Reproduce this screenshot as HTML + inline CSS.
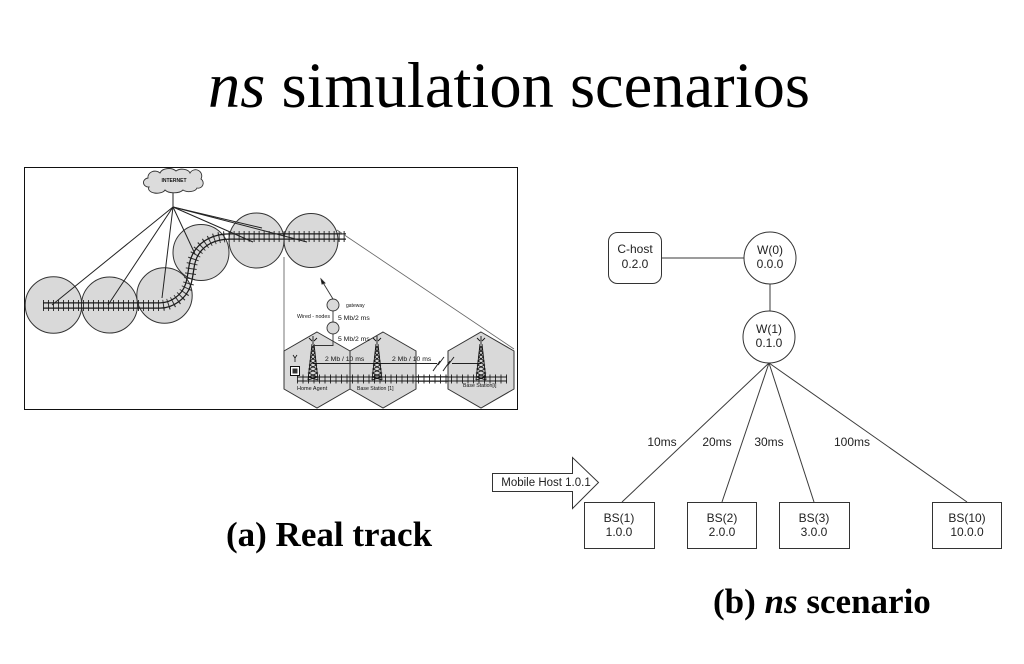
<!DOCTYPE html>
<html><head><meta charset="utf-8"><style>
html,body{margin:0;padding:0;background:#fff;}
svg{display:block;}
</style></head><body>
<svg width="1024" height="664" viewBox="0 0 1024 664" xmlns="http://www.w3.org/2000/svg">
<defs>
<mask id="rm" maskUnits="userSpaceOnUse" x="0" y="0" width="1024" height="664">
  <path d="M43,305.5 L160,305.5 C172,305.5 184,297 188,285 C192,273 190,262 197,252 C203,243 214,236.5 230,236.5 L346,236.5" stroke="#fff" stroke-width="6.5" fill="none"/>
  <path d="M43,305.5 L160,305.5 C172,305.5 184,297 188,285 C192,273 190,262 197,252 C203,243 214,236.5 230,236.5 L346,236.5" stroke="#000" stroke-width="4" fill="none"/>
  <line x1="297" y1="379" x2="507" y2="379" stroke="#fff" stroke-width="5.5"/>
  <line x1="297" y1="379" x2="507" y2="379" stroke="#000" stroke-width="3"/>
</mask>
</defs>

<!-- Title -->
<text x="208" y="107" font-family="Liberation Serif, serif" font-size="64.5" fill="#000"><tspan font-style="italic">ns</tspan> simulation scenarios</text>

<!-- Left panel -->
<rect x="24.5" y="167.5" width="493" height="242" fill="#fff" stroke="#111" stroke-width="1"/>

<!-- circles -->
<g fill="#d9d9d9" stroke="#333" stroke-width="1">
  <circle cx="53.5" cy="305" r="28.3"/>
  <circle cx="109.5" cy="305" r="28"/>
  <circle cx="164.5" cy="295.5" r="27.7"/>
  <circle cx="201" cy="252.5" r="28"/>
  <circle cx="256.5" cy="240.5" r="27.5"/>
  <circle cx="311" cy="240.5" r="27"/>
</g>

<!-- track ties -->
<path d="M43,305.5 L160,305.5 C172,305.5 184,297 188,285 C192,273 190,262 197,252 C203,243 214,236.5 230,236.5 L346,236.5" stroke="#333" stroke-width="11" stroke-dasharray="1 4" fill="none"/>
<line x1="297" y1="379" x2="507" y2="379" stroke="#333" stroke-width="9" stroke-dasharray="1 4.5"/>
<rect x="0" y="0" width="1024" height="664" fill="#1a1a1a" mask="url(#rm)"/>

<!-- lines from hub -->
<g stroke="#222" stroke-width="1" fill="none">
  <line x1="173" y1="188" x2="173" y2="207"/>
  <line x1="173" y1="207" x2="52" y2="305"/>
  <line x1="173" y1="207" x2="108" y2="305"/>
  <line x1="173" y1="207" x2="162" y2="298"/>
  <line x1="173" y1="207" x2="195" y2="254"/>
  <line x1="173" y1="207" x2="253" y2="242"/>
  <line x1="173" y1="207" x2="307" y2="242"/>
  <line x1="173" y1="207" x2="262" y2="228"/>
</g>

<!-- cloud -->
<path d="M149,187 a5,4.5 0 0 1 -1,-9 a7,6 0 0 1 12,-5 a9,6 0 0 1 16,-2 a8,5 0 0 1 14,2 a5,5 0 0 1 11,6 a5,5 0 0 1 -4,9 a8,4.5 0 0 1 -14,2 a10,5 0 0 1 -18,0 a8,4.5 0 0 1 -16,-3 z" fill="#dcdcdc" stroke="#333" stroke-width="0.9"/>
<text x="174" y="182" font-family="Liberation Sans, sans-serif" font-size="5" font-weight="bold" text-anchor="middle" fill="#111">INTERNET</text>

<!-- callout lines -->
<line x1="284" y1="257" x2="284" y2="351" stroke="#555" stroke-width="0.8"/>
<line x1="337" y1="230" x2="514" y2="349" stroke="#666" stroke-width="0.8"/>

<!-- hexagons -->
<g fill="#d9d9d9" stroke="#333" stroke-width="1">
  <polygon points="317,332 350,351 350,389 317,408 284,389 284,351"/>
  <polygon points="383,332 416,351 416,389 383,408 350,389 350,351"/>
  <polygon points="481,332 514,351 514,389 481,408 448,389 448,351"/>
</g>

<!-- redraw inset track over hexes -->
<line x1="297" y1="379" x2="507" y2="379" stroke="#333" stroke-width="9" stroke-dasharray="1 4.5"/>
<line x1="297" y1="377" x2="507" y2="377" stroke="#1a1a1a" stroke-width="1"/>
<line x1="297" y1="381" x2="507" y2="381" stroke="#1a1a1a" stroke-width="1"/>

<!-- link line -->
<g stroke="#222" stroke-width="1" fill="none">
  <line x1="313" y1="363.5" x2="437" y2="363.5"/>
  <polyline points="433,371 440,361 438,365 444,357"/>
  <polyline points="443,371 450,361 448,365 454,357"/>
  <line x1="452" y1="363.5" x2="481" y2="363.5"/>
</g>

<!-- towers -->
<g stroke="#111" stroke-width="0.9" fill="none">
  <g transform="translate(313,0)">
    <line x1="0" y1="336" x2="0" y2="344"/><line x1="-1" y1="344" x2="-5" y2="380"/><line x1="1" y1="344" x2="5" y2="380"/>
    <polyline points="-1,346 1.5,349 -2,353 2.5,357 -3,361 3.5,365 -4,369 4.5,373 -4.5,377 5,380"/>
    <polyline points="1,346 -1.5,349 2,353 -2.5,357 3,361 -3.5,365 4,369 -4.5,373 4.5,377 -5,380"/>
    <line x1="-4" y1="338" x2="-1" y2="341"/><line x1="4" y1="338" x2="1" y2="341"/>
  </g>
  <g transform="translate(377,0)">
    <line x1="0" y1="336" x2="0" y2="344"/><line x1="-1" y1="344" x2="-5" y2="380"/><line x1="1" y1="344" x2="5" y2="380"/>
    <polyline points="-1,346 1.5,349 -2,353 2.5,357 -3,361 3.5,365 -4,369 4.5,373 -4.5,377 5,380"/>
    <polyline points="1,346 -1.5,349 2,353 -2.5,357 3,361 -3.5,365 4,369 -4.5,373 4.5,377 -5,380"/>
    <line x1="-4" y1="338" x2="-1" y2="341"/><line x1="4" y1="338" x2="1" y2="341"/>
  </g>
  <g transform="translate(481,0)">
    <line x1="0" y1="336" x2="0" y2="344"/><line x1="-1" y1="344" x2="-5" y2="380"/><line x1="1" y1="344" x2="5" y2="380"/>
    <polyline points="-1,346 1.5,349 -2,353 2.5,357 -3,361 3.5,365 -4,369 4.5,373 -4.5,377 5,380"/>
    <polyline points="1,346 -1.5,349 2,353 -2.5,357 3,361 -3.5,365 4,369 -4.5,373 4.5,377 -5,380"/>
    <line x1="-4" y1="338" x2="-1" y2="341"/><line x1="4" y1="338" x2="1" y2="341"/>
  </g>
</g>

<!-- gateway nodes -->
<g stroke="#333" stroke-width="0.9">
  <line x1="333" y1="299" x2="322" y2="281"/>
  <polygon points="321,279 325,283 322,284" fill="#111"/>
  <line x1="333" y1="311" x2="333" y2="322"/>
  <polyline points="333,334 333,345.5 313,345.5" fill="none"/>
  <circle cx="333" cy="305" r="6" fill="#d9d9d9"/>
  <circle cx="333" cy="328" r="6" fill="#d9d9d9"/>
</g>

<!-- mobile host icon -->
<rect x="290.5" y="366.5" width="9" height="9" fill="#fff" stroke="#111" stroke-width="1"/>
<rect x="292.5" y="368.5" width="5" height="5" fill="#333"/>
<path d="M293,355 L295,358 L297,355 M295,358 L295,362" stroke="#111" stroke-width="0.8" fill="none"/>

<!-- inset labels -->
<g font-family="Liberation Sans, sans-serif" fill="#111">
  <text x="346" y="307" font-size="5">gateway</text>
  <text x="297" y="318" font-size="5.3">Wired - nodes</text>
  <text x="338" y="320" font-size="6.8">5 Mb/2 ms</text>
  <text x="338" y="341" font-size="6.8">5 Mb/2 ms</text>
  <text x="325" y="361" font-size="6.8">2 Mb / 10 ms</text>
  <text x="392" y="361" font-size="6.8">2 Mb / 10 ms</text>
  <text x="297" y="390" font-size="5.5">Home Agent</text>
  <text x="357" y="390" font-size="5.2">Base Station [1]</text>
  <text x="463" y="387" font-size="5.2">Base Station[i]</text>
</g>

<!-- caption a -->
<text x="226" y="546" font-family="Liberation Serif, serif" font-size="35" font-weight="bold" fill="#000">(a) Real track</text>

<!-- Right diagram -->
<g stroke="#3a3a3a" stroke-width="1" fill="none">
  <line x1="661" y1="258" x2="744" y2="258"/>
  <line x1="770" y1="284" x2="770" y2="311"/>
  <line x1="769" y1="363" x2="622" y2="502"/>
  <line x1="769" y1="363" x2="722" y2="502"/>
  <line x1="769" y1="363" x2="814" y2="502"/>
  <line x1="769" y1="363" x2="967" y2="502"/>
</g>
<g fill="#fff" stroke="#333" stroke-width="1">
  <rect x="608.5" y="232.5" width="53" height="51" rx="9"/>
  <circle cx="770" cy="258" r="26"/>
  <circle cx="769" cy="337" r="26"/>
  <rect x="584.5" y="502.5" width="70" height="46"/>
  <rect x="687.5" y="502.5" width="69" height="46"/>
  <rect x="779.5" y="502.5" width="70" height="46"/>
  <rect x="932.5" y="502.5" width="69" height="46"/>
  <polygon points="492.5,473.5 572.5,473.5 572.5,457.5 598.5,482.5 572.5,508.5 572.5,491.5 492.5,491.5"/>
</g>
<g font-family="Liberation Sans, sans-serif" font-size="12" fill="#222" text-anchor="middle">
  <text x="635" y="253">C-host</text>
  <text x="635" y="268">0.2.0</text>
  <text x="770" y="254">W(0)</text>
  <text x="770" y="268">0.0.0</text>
  <text x="769" y="333">W(1)</text>
  <text x="769" y="347">0.1.0</text>
  <text x="619" y="522">BS(1)</text>
  <text x="619" y="536">1.0.0</text>
  <text x="722" y="522">BS(2)</text>
  <text x="722" y="536">2.0.0</text>
  <text x="814" y="522">BS(3)</text>
  <text x="814" y="536">3.0.0</text>
  <text x="967" y="522">BS(10)</text>
  <text x="967" y="536">10.0.0</text>
  <text x="662" y="446">10ms</text>
  <text x="717" y="446">20ms</text>
  <text x="769" y="446">30ms</text>
  <text x="852" y="446">100ms</text>
  <text x="546" y="486" font-size="11.5">Mobile Host 1.0.1</text>
</g>

<!-- caption b -->
<text x="713" y="613" font-family="Liberation Serif, serif" font-size="35" font-weight="bold" fill="#000">(b) <tspan font-style="italic">ns</tspan> scenario</text>
</svg>
</body></html>
